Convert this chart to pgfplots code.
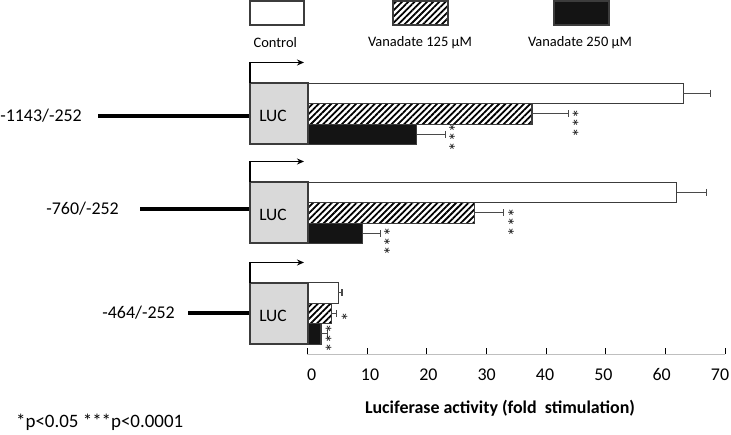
\documentclass[border=0pt]{standalone}
\usepackage{pgfplots}
\pgfplotsset{compat=1.18}
\usepackage{fontspec}
\setmainfont{Carlito}
\usetikzlibrary{patterns.meta,arrows.meta}
\definecolor{edge}{HTML}{3C3C3C}
\definecolor{lucgray}{HTML}{D9D9D9}
\definecolor{barblack}{HTML}{141414}
\definecolor{errgray}{HTML}{4A4A4A}
\tikzset{hatch/.style={pattern={Lines[angle=45,distance=4.4bp,line width=1.8bp]}}}

\begin{document}
\begin{tikzpicture}
\useasboundingbox (0,0) rectangle (731bp,435bp);
\begin{axis}[
  at={(307.3bp,81bp)}, anchor=south west,
  scale only axis, width=417.7bp, height=354bp,
  xmin=0, xmax=70, ymin=81, ymax=435,
  axis x line*=bottom, axis y line=none,
  x axis line style={-, draw=gray!50, line width=0.8bp},
  xtick={0,10,...,70}, tick align=inside, major tick length=6bp,
  x tick style={black, line width=0.9bp},
  xticklabel={\pgfmathsetmacro\sh{8.8-0.268*\tick}\hspace*{\sh bp}\pgfmathprintnumber{\tick}},
  xticklabel style={font=\fontsize{18}{18}\selectfont, yshift=-11bp},
  /pgf/number format/assume math mode=true,
  clip=false,
  error bars/error bar style={errgray, line width=1bp},
  error bars/error mark=|,
  error bars/error mark options={errgray, line width=1.2bp, mark size=3.5bp},
]
\addplot+[xbar, bar shift=0pt, bar width=20.3bp, draw=edge, line width=1.2bp, fill=white, mark=none,
  error bars/.cd, x dir=plus, x explicit]
  coordinates {(63.0,341.5) +- (4.6,0) (61.9,242.5) +- (5.0,0) (5.2,142) +- (0.6,0)};
\addplot+[xbar, bar shift=0pt, bar width=20.3bp, draw=edge, line width=1.2bp, hatch, mark=none,
  error bars/.cd, x dir=plus, x explicit]
  coordinates {(37.65,321) +- (6.15,0) (28.0,222) +- (4.9,0) (4.0,121.5) +- (0.9,0)};
\addplot+[xbar, bar shift=0pt, bar width=20.3bp, draw=edge, line width=1.2bp, fill=barblack, mark=none,
  error bars/.cd, x dir=plus, x explicit]
  coordinates {(18.35,300.5) +- (4.75,0) (9.3,201.5) +- (3.0,0) (2.3,101) +- (1.1,0)};
\begin{scope}[every node/.style={rotate=90, font=\fontsize{19}{19}\selectfont, inner sep=0pt, text=black!90}]
\node at (axis cs:45.6,312) {***};
\node at (axis cs:24.9,298) {***};
\node at (axis cs:34.8,213) {***};
\node at (axis cs:14.0,193.5) {***};
\node at (axis cs:6.9,118) {*};
\node at (axis cs:4.2,96.5) {***};
\end{scope}
\end{axis}
\begin{scope}[x=1bp, y=-1bp, yshift=435bp]
  % legend
  \draw[edge, line width=1.2bp, fill=white] (250,1) rectangle (304,25);
  \draw[edge, line width=1.2bp, hatch] (393,1) rectangle (448,25);
  \draw[edge, line width=1.2bp, fill=barblack] (554,1) rectangle (609,25);
  \begin{scope}[every node/.style={font=\fontsize{14.5}{14.5}\selectfont, inner sep=0pt}]
    \node at (275.3,43) {Control};
    \node at (420,43) {Vanadate 125 µM};
    \node at (580,43) {Vanadate 250 µM};
  \end{scope}
  % constructs
  \foreach \top/\ly/\lx/\lab/\lt in {83/116/98/{-1143/-252}/82, 182/209/140/{-760/-252}/119, 283/313/188/{-464/-252}/175} {
    \draw[line width=3.5bp, black] (\lx,\ly) -- (250,\ly);
    \draw[edge, line width=1.2bp, fill=lucgray] (250,\top) rectangle (308,\top+61);
    \node[font=\fontsize{17.5}{17.5}\selectfont, inner sep=0pt] at (273,\top+32.5) {LUC};
    \draw[black, line width=1.2bp, -{Stealth[length=7bp,width=6bp]}] (250,\top) -- (250,\top-20.5) -- (304,\top-20.5);
    \node[anchor=east, inner sep=0pt, font=\fontsize{18}{18}\selectfont] at (\lt,\ly) {\lab};
  }
  \node[font=\fontsize{18}{18}\selectfont\bfseries, inner sep=0pt] at (500,408) {Luciferase activity (fold\ \ stimulation)};
  \node[anchor=west, font=\fontsize{19}{19}\selectfont, inner sep=0pt] at (16,422) {*p<0.05 ***p<0.0001};
\end{scope}
\end{tikzpicture}
\end{document}
